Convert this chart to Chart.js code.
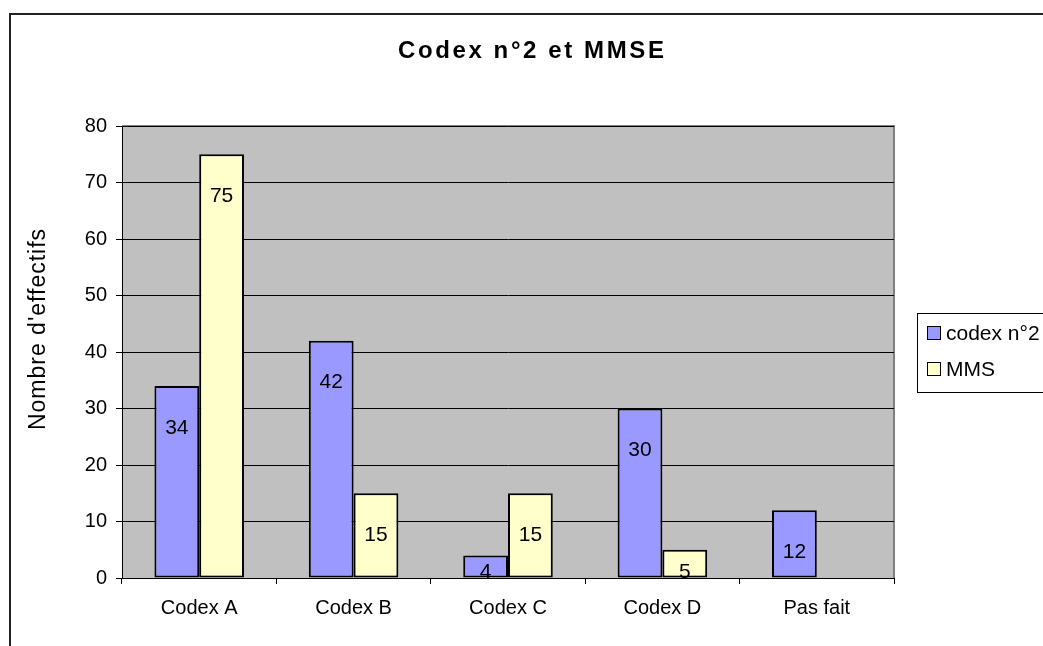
<!DOCTYPE html>
<html lang="fr">
<head>
<meta charset="utf-8">
<title>Codex n°2 et MMSE</title>
<script src="https://cdn.jsdelivr.net/npm/chart.js@4/dist/chart.umd.min.js"></script>
<style>
  html, body { margin: 0; padding: 0; background: #fff; }
  #wrap { width: 1043px; height: 646px; position: relative; }
</style>
</head>
<body>
<div id="wrap"><canvas id="chart" width="1043" height="646"></canvas></div>
<script>
  // Données du graphique
  const categories = ['Codex A', 'Codex B', 'Codex C', 'Codex D', 'Pas fait'];
  const codexN2 = [34, 42, 4, 30, 12];
  const mms = [75, 15, 15, 5, null];
  const seriesLabels = ['codex n°2', 'MMS'];
  const yTicks = [0, 10, 20, 30, 40, 50, 60, 70, 80];

  const chartTitle = 'Codex n°2 et MMSE';
  const yTitle = "Nombre d'effectifs";
  const FONT = 'Arial, "Liberation Sans", sans-serif';

  // Fond, bordures, titre, légende et étiquettes de valeurs
  const decor = {
    id: 'decor',
    beforeDraw(chart) {
      const { ctx, chartArea: a } = chart;
      ctx.save();
      ctx.fillStyle = '#fff';
      ctx.fillRect(0, 0, chart.width, chart.height);
      ctx.fillStyle = '#c0c0c0';
      ctx.fillRect(a.left, a.top, a.right - a.left, a.bottom - a.top);
      // bordure grise du cadre du graphique (haut et droite)
      ctx.strokeStyle = '#808080';
      ctx.lineWidth = 2;
      ctx.beginPath();
      ctx.moveTo(a.left, a.top);
      ctx.lineTo(a.right, a.top);
      ctx.lineTo(a.right, a.bottom);
      ctx.stroke();
      ctx.restore();
    },
    afterDraw(chart) {
      const { ctx } = chart;
      ctx.save();
      // cadre extérieur
      ctx.strokeStyle = '#222';
      ctx.lineWidth = 2;
      ctx.strokeRect(10, 14, 1100, 700);

      // titre
      ctx.fillStyle = '#000';
      ctx.font = 'bold 24px ' + FONT;
      ctx.letterSpacing = '2.6px';
      ctx.textAlign = 'left';
      ctx.textBaseline = 'middle';
      ctx.fillText(chartTitle, 398, 51);
      ctx.letterSpacing = '1px';

      // titre de l'axe Y
      ctx.font = '23px ' + FONT;
      ctx.translate(39, 329);
      ctx.rotate(-Math.PI / 2);
      ctx.textAlign = 'center';
      ctx.fillText(yTitle, 0, 0);
      ctx.setTransform(1, 0, 0, 1, 0, 0);
      ctx.letterSpacing = '0px';

      // étiquettes de valeurs
      ctx.font = '21px ' + FONT;
      ctx.textAlign = 'center';
      ctx.textBaseline = 'middle';
      chart.data.datasets.forEach((ds, i) => {
        chart.getDatasetMeta(i).data.forEach((bar, j) => {
          const v = ds.data[j];
          if (v === null || v === undefined) return;
          const y = Math.min(bar.y + 42, bar.base - 5);
          ctx.fillText(String(v), bar.x, y);
        });
      });

      // légende
      ctx.font = '21px ' + FONT;
      ctx.fillStyle = '#fff';
      ctx.fillRect(917, 313, 140, 79);
      ctx.strokeStyle = '#000';
      ctx.lineWidth = 1;
      ctx.strokeRect(917.5, 313.5, 140, 79);
      ctx.textAlign = 'left';
      chart.data.datasets.forEach((ds, i) => {
        const cy = 333 + i * 36;
        ctx.fillStyle = ds.backgroundColor;
        ctx.fillRect(927, cy - 6, 13, 13);
        ctx.strokeStyle = '#000';
        ctx.strokeRect(927.5, cy - 6.5, 13, 13);
        ctx.fillStyle = '#000';
        ctx.fillText(ds.label, 946, cy + 1);
      });
      ctx.restore();
    }
  };

  const ctx = document.getElementById('chart').getContext('2d');
  new Chart(ctx, {
    type: 'bar',
    data: {
      labels: categories,
      datasets: [
        {
          label: seriesLabels[0],
          data: codexN2,
          backgroundColor: '#9999ff',
          borderColor: '#000',
          borderWidth: 2,
          borderSkipped: false
        },
        {
          label: seriesLabels[1],
          data: mms,
          backgroundColor: '#ffffcc',
          borderColor: '#000',
          borderWidth: 2,
          borderSkipped: false
        }
      ]
    },
    options: {
      responsive: false,
      animation: false,
      layout: { padding: { left: 0, top: 126, right: 149, bottom: 0 } },
      plugins: {
        legend: { display: false },
        title: { display: false },
        tooltip: { enabled: false }
      },
      datasets: {
        bar: { categoryPercentage: 0.58, barPercentage: 1.0 }
      },
      scales: {
        x: {
          grid: {
            offset: true,
            drawOnChartArea: false,
            color: '#000',
            tickLength: 6,
            tickColor: '#000'
          },
          border: { color: '#000', width: 1 },
          ticks: {
            color: '#000',
            font: { family: FONT, size: 20 },
            padding: 12,
            maxRotation: 0
          },
          afterFit(scale) { scale.height = 68; }
        },
        y: {
          min: 0,
          max: 80,
          afterBuildTicks(scale) { scale.ticks = yTicks.map(v => ({ value: v })); },
          grid: {
            color: '#000',
            lineWidth: 1,
            tickLength: 6,
            tickColor: '#000'
          },
          border: { color: '#000', width: 1 },
          ticks: {
            color: '#000',
            font: { family: FONT, size: 20 },
            padding: 9
          },
          afterFit(scale) { scale.width = 122; }
        }
      }
    },
    plugins: [decor]
  });
</script>
</body>
</html>
